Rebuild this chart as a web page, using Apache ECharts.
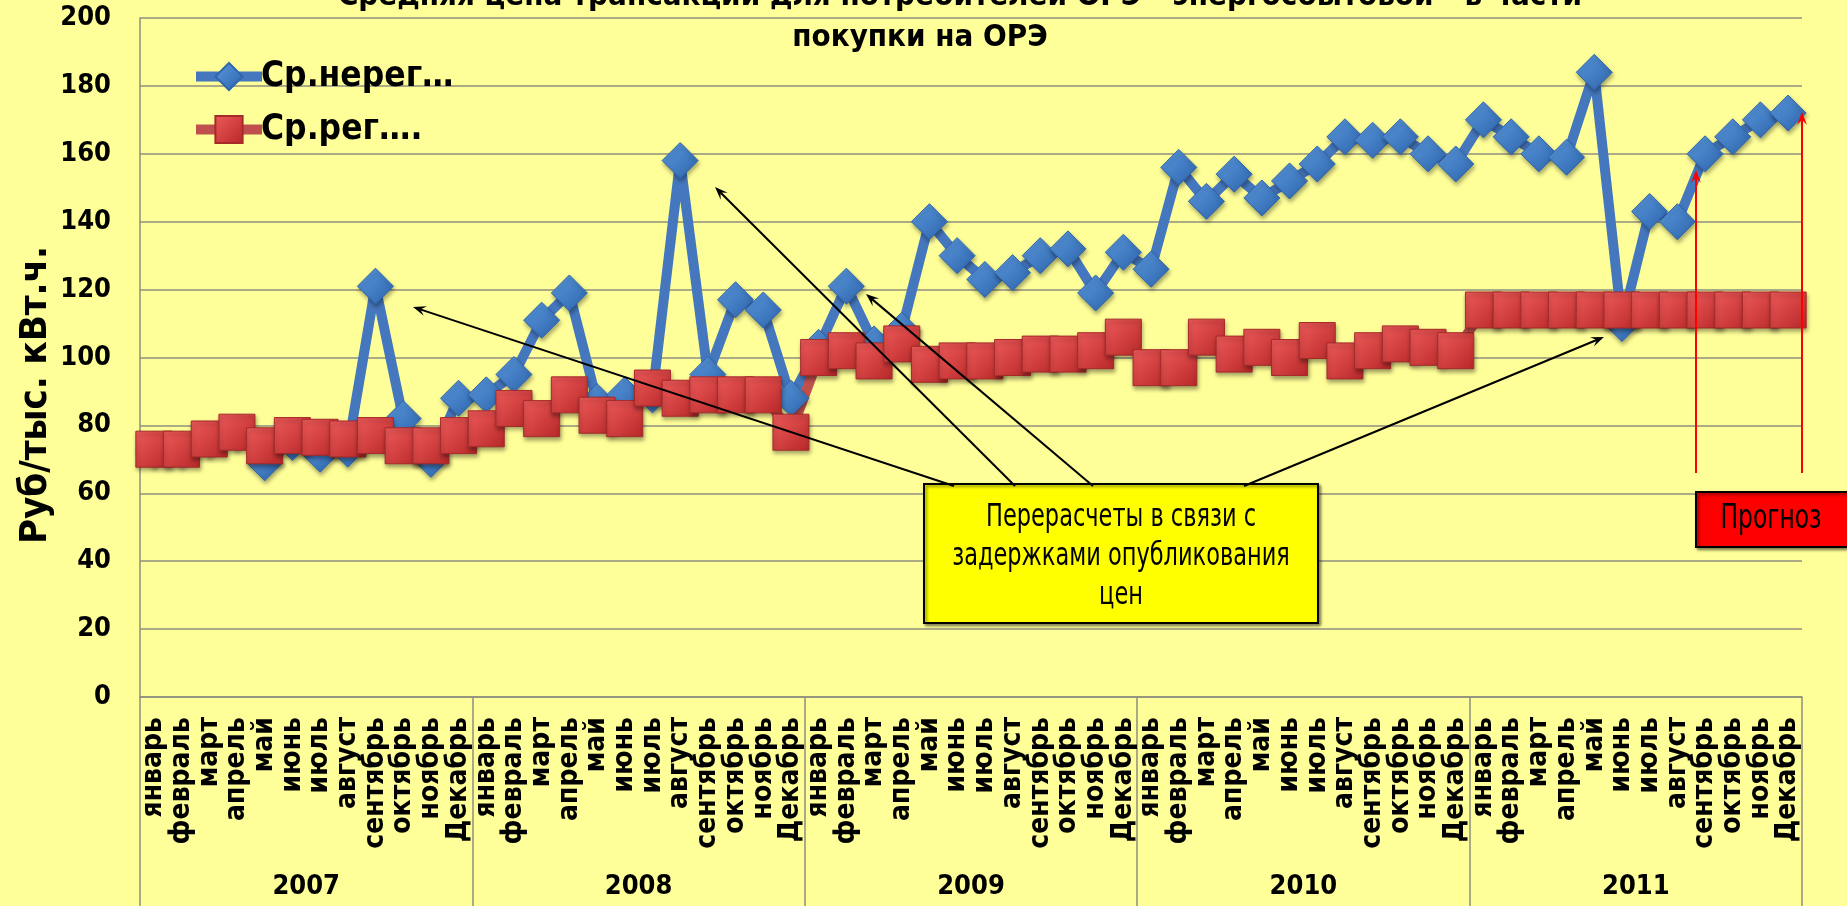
<!DOCTYPE html>
<html>
<head>
<meta charset="utf-8">
<script src="https://cdn.jsdelivr.net/npm/echarts@6/dist/echarts.min.js"></script>
<style>
html, body { margin: 0; padding: 0; background: #FFFF99; overflow: hidden; }
#container { width: 1847px; height: 906px; }
</style>
</head>
<body>
<div id="container"></div>
<script>
// data
const years = ['2007', '2008', '2009', '2010', '2011']
const monthNames = ['январь', 'февраль', 'март', 'апрель', 'май', 'июнь', 'июль', 'август', 'сентябрь', 'октябрь', 'ноябрь', 'Декабрь']
const seriesNames = ['Ср.нерег…', 'Ср.рег….']

const nonRegPrice = [
    73, 73, 76, 78, 69, 75, 71.5, 73, 121, 82, 70, 88,
    89, 95, 111, 119, 87, 89, 89, 158, 95, 117, 114, 88,
    103, 121, 104, 108, 140, 130, 123, 125, 130, 132, 119, 131,
    126, 156, 146, 154, 147, 152, 157, 165, 164, 165, 160, 157,
    170, 165, 160, 159, 184, 110, 143, 140, 160, 165, 170, 172
]
const regPrice = [
    73, 73, 76, 78, 74, 77, 76.5, 76, 77, 74, 74, 77,
    79, 85, 82, 89, 83, 82, 91, 88, 89, 89, 89, 78,
    100, 102, 99, 104, 98, 99, 99, 100, 101, 101, 102, 106,
    97, 97, 106, 101, 103, 100, 105, 99, 102, 104, 103, 102,
    114, 114, 114, 114, 114, 114, 114, 114, 114, 114, 114, 114
]

const titleLines = ['Средняя цена трансакции для потребителей ОРЭ - энергосбытовой - в части', 'покупки на ОРЭ']
const yName = 'Руб/тыс. кВт.ч.'
const noteText = 'Перерасчеты в связи с\nзадержками опубликования\nцен'
const forecastText = 'Прогноз'

const months = []
years.forEach(() => monthNames.forEach(m => months.push(m)))

const FONT = "'DejaVu Sans Condensed', 'Liberation Sans Narrow', 'DejaVu Sans', sans-serif"
const NARROW = "'Liberation Sans Narrow', 'DejaVu Sans Condensed', 'Liberation Sans', sans-serif"
const GRID = '#8f8f80'

function arrow(x1, y1, x2, y2, color) {
    const a = Math.atan2(y2 - y1, x2 - x1)
    const c = Math.cos(a), s = Math.sin(a)
    const L = 13, H = 5
    const bx = x2 - L * c, by = y2 - L * s
    return [
        { type: 'line', z: 100, shape: { x1: x1, y1: y1, x2: x2 - 6 * c, y2: y2 - 6 * s }, style: { stroke: color, lineWidth: 2 } },
        { type: 'polygon', z: 100, shape: { points: [[x2, y2], [bx - s * H, by + c * H], [x2 - 0.6 * L * c, y2 - 0.6 * L * s], [bx + s * H, by - c * H]] }, style: { fill: color } }
    ]
}

function grad(top, bottom) {
    return new echarts.graphic.LinearGradient(0, 0, 1, 1, [
        { offset: 0, color: top },
        { offset: 1, color: bottom }
    ])
}

let graphics = [
    { type: 'text', z: 100, x: 960, y: -3, style: { text: titleLines[0], font: 'bold 31px ' + FONT, fill: '#000', align: 'center', verticalAlign: 'middle' } },
    { type: 'text', z: 100, x: 920, y: 38, style: { text: titleLines[1], font: 'bold 31px ' + FONT, fill: '#000', align: 'center', verticalAlign: 'middle' } },
    { type: 'text', z: 100, x: 36, y: 395, rotation: Math.PI / 2, style: { text: yName, font: 'bold 38px ' + FONT, fill: '#000', align: 'center', verticalAlign: 'middle' } },
    {
        type: 'rect', z: 100, shape: { x: 924, y: 484, width: 394, height: 139 },
        style: { fill: '#FFFF00', stroke: '#000', lineWidth: 2, shadowBlur: 3, shadowOffsetX: 2, shadowOffsetY: 2, shadowColor: 'rgba(0,0,0,0.45)' }
    },
    { type: 'text', z: 101, x: 1121, y: 557, scaleY: 1.3, style: { text: noteText, font: '25px ' + NARROW, lineHeight: 30, fill: '#000', align: 'center', verticalAlign: 'middle' } },
    {
        type: 'rect', z: 100, shape: { x: 1696, y: 492, width: 160, height: 55 },
        style: { fill: '#FF0000', stroke: '#000', lineWidth: 2, shadowBlur: 3, shadowOffsetX: 2, shadowOffsetY: 2, shadowColor: 'rgba(0,0,0,0.45)' }
    },
    { type: 'text', z: 101, x: 1771, y: 519, scaleY: 1.3, style: { text: forecastText, font: '26px ' + NARROW, fill: '#000', align: 'center', verticalAlign: 'middle' } }
]
graphics = graphics
    .concat(arrow(954, 486, 413, 307, '#000'))
    .concat(arrow(1015, 486, 715, 187, '#000'))
    .concat(arrow(1093, 486, 866, 294, '#000'))
    .concat(arrow(1244, 486, 1604, 337, '#000'))
    .concat(arrow(1696, 473, 1696, 170, '#FF0000'))
    .concat(arrow(1802, 473, 1802, 112, '#FF0000'))

let options = {
    backgroundColor: '#FFFF99',
    animation: false,
    textStyle: { fontFamily: FONT },
    grid: { left: 140, right: 45, top: 18, bottom: 209, containLabel: false },
    legend: {
        data: seriesNames,
        orient: 'vertical',
        left: 186,
        top: 54,
        itemWidth: 66,
        itemHeight: 34,
        itemGap: 18,
        lineStyle: { width: 10 },
        textStyle: { fontSize: 35, fontWeight: 'bold', color: '#000', fontFamily: FONT, padding: [0, 0, 0, -6] }
    },
    xAxis: [
        {
            type: 'category',
            data: months,
            axisLine: { show: true, lineStyle: { color: GRID, width: 1.5 } },
            axisTick: { show: false },
            axisLabel: { interval: 0, rotate: 90, margin: 20, fontSize: 28, fontWeight: 'bold', color: '#000', fontFamily: FONT }
        },
        {
            type: 'category',
            data: years,
            position: 'bottom',
            offset: 0,
            axisLine: { show: false },
            axisTick: { show: true, length: 210, lineStyle: { color: GRID, width: 1.5 } },
            axisLabel: { margin: 176, fontSize: 27, fontWeight: 'bold', color: '#000', fontFamily: FONT }
        }
    ],
    yAxis: {
        type: 'value',
        min: 0,
        max: 200,
        interval: 20,
        axisLine: { show: true, lineStyle: { color: GRID, width: 1.5 } },
        axisTick: { show: false },
        splitLine: { lineStyle: { color: GRID, width: 1.5 } },
        axisLabel: { margin: 29, fontSize: 27, fontWeight: 'bold', color: '#000', fontFamily: FONT }
    },
    series: [
        {
            name: seriesNames[0],
            type: 'line',
            data: nonRegPrice,
            symbol: 'diamond',
            symbolSize: 36,
            lineStyle: { color: '#4577BE', width: 10 },
            itemStyle: {
                color: grad('#5D9BE0', '#2B62AA'),
                borderColor: '#2F66AE',
                borderWidth: 1,
                shadowBlur: 4,
                shadowOffsetX: 1,
                shadowOffsetY: 3,
                shadowColor: 'rgba(0,0,0,0.35)'
            }
        },
        {
            name: seriesNames[1],
            type: 'line',
            data: regPrice,
            symbol: 'rect',
            symbolSize: 36,
            lineStyle: { color: '#C0504D', width: 10 },
            itemStyle: {
                color: grad('#EE5A5A', '#B82828'),
                borderColor: '#A52A2A',
                borderWidth: 1,
                shadowBlur: 4,
                shadowOffsetX: 1,
                shadowOffsetY: 3,
                shadowColor: 'rgba(0,0,0,0.35)'
            }
        }
    ],
    graphic: graphics
}

let mychart = echarts.init(document.getElementById('container'))
mychart.setOption(options)
window.addEventListener('resize', () => { mychart.resize() })
</script>
</body>
</html>
